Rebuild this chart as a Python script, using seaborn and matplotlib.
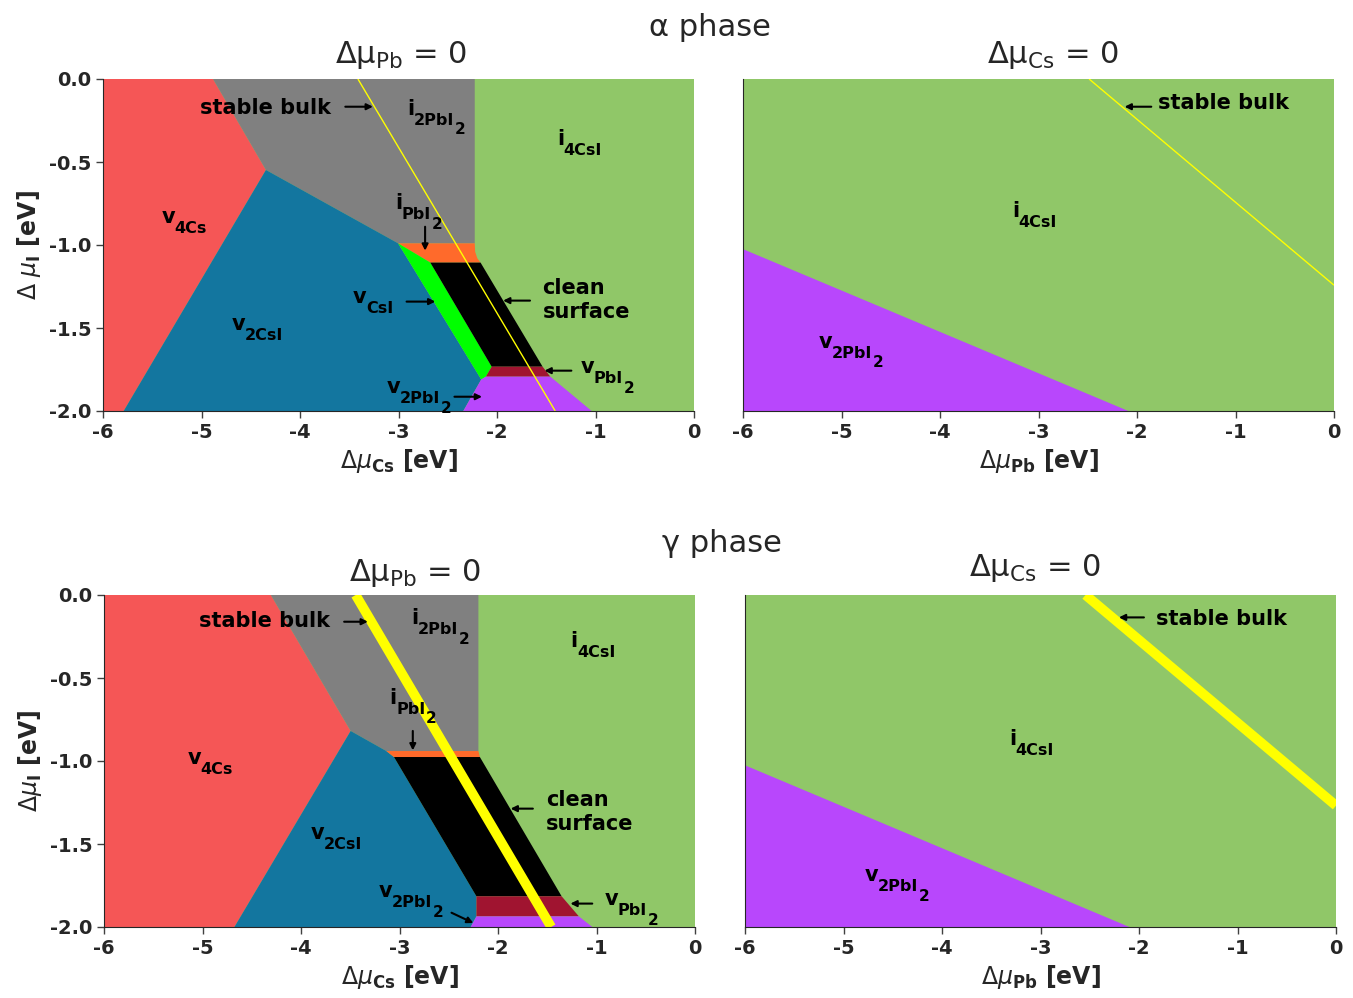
import numpy as np
import pandas as pd
import matplotlib
matplotlib.use("Agg")
import matplotlib.pyplot as plt
import seaborn as sns

sns.set_style("ticks")
plt.rcParams['font.family'] = ['DejaVu Sans']

# ---------------- colours ----------------
C_GREEN = '#90c768'
C_RED = '#f55656'
C_GRAY = '#808080'
C_BLUE = '#13769f'
C_ORANGE = '#ff6a2b'
C_LIME = '#00ff00'
C_BLACK = '#000000'
C_DARKRED = '#a01430'
C_PURPLE = '#b847fc'
C_YELLOW = '#ffff00'

# ---------------- alpha phase, dmu_Pb = 0 (x: dmu_Cs, y: dmu_I) ----------------
a_red_x = [-6, -4.883, -4.346, -5.79, -6]
a_red_y = [0, 0, -0.548, -2, -2]
a_gray_x = [-4.883, -2.226, -2.226, -3.004, -4.346]
a_gray_y = [0, 0, -0.99, -0.99, -0.548]
a_blue_x = [-4.346, -3.004, -2.16, -2.342, -5.79]
a_blue_y = [-0.548, -0.99, -1.81, -2, -2]
a_orange_x = [-3.004, -2.226, -2.222, -2.20, -2.167, -2.677]
a_orange_y = [-0.99, -0.99, -1.04, -1.08, -1.106, -1.106]
a_lime_x = [-3.004, -2.677, -2.054, -2.113, -2.16]
a_lime_y = [-0.99, -1.106, -1.733, -1.793, -1.81]
a_black_x = [-2.677, -2.167, -1.537, -2.054]
a_black_y = [-1.106, -1.106, -1.733, -1.733]
a_dred_x = [-2.054, -1.537, -1.459, -2.113]
a_dred_y = [-1.733, -1.733, -1.793, -1.793]
a_purp_x = [-2.113, -1.459, -1.039, -2.342, -2.16]
a_purp_y = [-1.793, -1.793, -2, -2, -1.81]
a_bulk_x = [-3.412, -1.409]
a_bulk_y = [0.0, -2.0]

# ---------------- alpha phase, dmu_Cs = 0 (x: dmu_Pb, y: dmu_I) ----------------
ar_purp_x = [-6, -2.088, -6]
ar_purp_y = [-1.025, -2, -2]
ar_bulk_x = [-2.486, 0.0]
ar_bulk_y = [0.0, -1.242]

# ---------------- gamma phase, dmu_Pb = 0 ----------------
g_red_x = [-6, -4.306, -3.496, -4.676, -6]
g_red_y = [0, 0, -0.819, -2, -2]
g_gray_x = [-4.306, -2.199, -2.199, -3.134, -3.496]
g_gray_y = [0, 0, -0.94, -0.94, -0.819]
g_blue_x = [-3.496, -3.134, -3.056, -2.219, -2.219, -2.277, -4.676]
g_blue_y = [-0.819, -0.94, -0.976, -1.815, -1.936, -2, -2]
g_orange_x = [-3.134, -2.199, -2.184, -3.056]
g_orange_y = [-0.94, -0.94, -0.976, -0.976]
g_black_x = [-3.056, -2.184, -1.354, -2.219]
g_black_y = [-0.976, -0.976, -1.815, -1.815]
g_dred_x = [-2.219, -1.354, -1.179, -2.219]
g_dred_y = [-1.815, -1.815, -1.936, -1.936]
g_purp_x = [-2.219, -1.179, -1.043, -2.277]
g_purp_y = [-1.936, -1.936, -2, -2]
g_bulk_x = [-3.445, -1.46]
g_bulk_y = [0.0, -2.0]

# ---------------- gamma phase, dmu_Cs = 0 ----------------
gr_purp_x = [-6, -2.098, -6]
gr_purp_y = [-1.026, -2, -2]
gr_bulk_x = [-2.543, 0.0]
gr_bulk_y = [0.0, -1.269]

x_ticks = [-6, -5, -4, -3, -2, -1, 0]
x_ticklabels = ['-6', '-5', '-4', '-3', '-2', '-1', '0']
y_ticks = [0.0, -0.5, -1.0, -1.5, -2.0]
y_ticklabels = ['0.0', '-0.5', '-1.0', '-1.5', '-2.0']

# region labels: (main, subscript, sub-subscript, x_left, y_baseline)
a_labels = [
    ('v', '4Cs', None, -5.409, -0.867),
    ('v', '2CsI', None, -4.689, -1.512),
    ('i', '4CsI', None, -1.393, -0.40),
    ('i', '2PbI', '2', -2.907, -0.215),
    ('i', 'PbI', '2', -3.035, -0.785),
    ('v', 'CsI', None, -3.463, -1.349),
    ('v', 'PbI', '2', -1.148, -1.773),
    ('v', '2PbI', '2', -3.12, -1.894),
]
a_texts = [('stable bulk', -5.012, -0.177), ('clean\nsurface', -1.537, -1.331)]
a_arrows = [  # (tail x, tail y, head x, head y)
    (-3.54, -0.167, -3.26, -0.167),
    (-2.73, -0.89, -2.73, -1.034),
    (-2.918, -1.341, -2.626, -1.341),
    (-1.665, -1.335, -1.938, -1.335),
    (-1.245, -1.757, -1.518, -1.757),
    (-2.432, -1.914, -2.152, -1.914),
]
ar_labels = [
    ('i', '4CsI', None, -3.269, -0.83),
    ('v', '2PbI', '2', -5.229, -1.618),
]
ar_texts = [('stable bulk', -1.787, -0.147)]
ar_arrows = [(-1.855, -0.167, -2.126, -0.167)]

g_labels = [
    ('i', '2PbI', '2', -2.885, -0.177),
    ('i', '4CsI', None, -1.265, -0.315),
    ('i', 'PbI', '2', -3.099, -0.655),
    ('v', '4Cs', None, -5.151, -1.02),
    ('v', '2CsI', None, -3.905, -1.468),
    ('v', 'PbI', '2', -0.914, -1.87),
    ('v', '2PbI', '2', -3.212, -1.819),
]
g_texts = [('stable bulk', -5.034, -0.157), ('clean\nsurface', -1.51, -1.307)]
g_arrows = [
    (-3.562, -0.161, -3.321, -0.161),
    (-2.865, -0.819, -2.865, -0.936),
    (-1.646, -1.287, -1.872, -1.287),
    (-1.043, -1.859, -1.265, -1.859),
    (-2.472, -1.914, -2.25, -1.976),
]
gr_labels = [
    ('i', '4CsI', None, -3.317, -0.906),
    ('v', '2PbI', '2', -4.785, -1.725),
]
gr_texts = [('stable bulk', -1.823, -0.145)]
gr_arrows = [(-1.95, -0.135, -2.204, -0.135)]

fig = plt.figure(figsize=(13.53, 9.98), dpi=100)
W, H = 1353.0, 998.0


def make_ax(l, t, r, b):
    return fig.add_axes([l / W, 1 - b / H, (r - l) / W, (b - t) / H])


ax_a = make_ax(103, 79, 694, 411)
ax_ar = make_ax(743, 79, 1334, 411)
ax_g = make_ax(104, 595, 695, 927)
ax_gr = make_ax(745, 595, 1336, 927)


def fill(ax, xs, ys, c):
    ax.fill(xs, ys, color=c, lw=0, antialiased=True)


def base(ax, ylab):
    ax.fill([-6, 0, 0, -6], [0, 0, -2, -2], color=C_GREEN, lw=0)
    ax.set_xlim(-6, 0)
    ax.set_ylim(-2, 0)
    ax.set_xticks(x_ticks)
    ax.set_xticklabels(x_ticklabels, fontsize=14, fontweight='bold')
    for s in ['top', 'right']:
        ax.spines[s].set_visible(False)
    ax.tick_params(axis='both', length=5, width=1, color='.25')
    if ylab:
        ax.set_yticks(y_ticks)
        ax.set_yticklabels(y_ticklabels, fontsize=14, fontweight='bold')
    else:
        ax.set_yticks([])


def bulk(ax, xs, ys, lw):
    df = pd.DataFrame({'x': xs, 'y': ys})
    sns.lineplot(data=df, x='x', y='y', ax=ax, color=C_YELLOW, lw=lw,
                 sort=False, estimator=None, solid_capstyle='butt')
    ax.set_xlabel('')
    ax.set_ylabel('')


FS = 15
FS_SUB = 11.5
FS_SUB2 = 11


def annotate(ax, labels, texts, arrows):
    for main, sub, sub2, x, y in labels:
        t = ax.text(x, y, main, fontsize=FS, fontweight='bold', color='black',
                    ha='left', va='baseline')
        s = ax.annotate(sub, xy=(1, 0), xycoords=t, xytext=(-0.5, -6.5),
                        textcoords='offset points', fontsize=FS_SUB,
                        fontweight='bold', color='black', ha='left', va='bottom')
        if sub2:
            ax.annotate(sub2, xy=(1, 0), xycoords=s, xytext=(0.5, -7.0),
                        textcoords='offset points', fontsize=FS_SUB2,
                        fontweight='bold', color='black', ha='left', va='bottom')
    for txt, x, y in texts:
        ax.text(x, y, txt, fontsize=FS, fontweight='bold', color='black',
                ha='left', va='center', linespacing=1.25)
    for x0, y0, x1, y1 in arrows:
        ax.annotate('', xy=(x1, y1), xytext=(x0, y0),
                    arrowprops=dict(arrowstyle='-|>', color='black', lw=1.5,
                                    mutation_scale=9, shrinkA=0, shrinkB=0))


# alpha left
base(ax_a, True)
fill(ax_a, a_red_x, a_red_y, C_RED)
fill(ax_a, a_gray_x, a_gray_y, C_GRAY)
fill(ax_a, a_blue_x, a_blue_y, C_BLUE)
fill(ax_a, a_orange_x, a_orange_y, C_ORANGE)
fill(ax_a, a_lime_x, a_lime_y, C_LIME)
fill(ax_a, a_black_x, a_black_y, C_BLACK)
fill(ax_a, a_dred_x, a_dred_y, C_DARKRED)
fill(ax_a, a_purp_x, a_purp_y, C_PURPLE)
bulk(ax_a, a_bulk_x, a_bulk_y, 1.0)
annotate(ax_a, a_labels, a_texts, a_arrows)

# alpha right
base(ax_ar, False)
fill(ax_ar, ar_purp_x, ar_purp_y, C_PURPLE)
bulk(ax_ar, ar_bulk_x, ar_bulk_y, 1.0)
annotate(ax_ar, ar_labels, ar_texts, ar_arrows)

# gamma left
base(ax_g, True)
fill(ax_g, g_red_x, g_red_y, C_RED)
fill(ax_g, g_gray_x, g_gray_y, C_GRAY)
fill(ax_g, g_blue_x, g_blue_y, C_BLUE)
fill(ax_g, g_orange_x, g_orange_y, C_ORANGE)
fill(ax_g, g_black_x, g_black_y, C_BLACK)
fill(ax_g, g_dred_x, g_dred_y, C_DARKRED)
fill(ax_g, g_purp_x, g_purp_y, C_PURPLE)
bulk(ax_g, g_bulk_x, g_bulk_y, 7.0)
annotate(ax_g, g_labels, g_texts, g_arrows)

# gamma right
base(ax_gr, False)
fill(ax_gr, gr_purp_x, gr_purp_y, C_PURPLE)
bulk(ax_gr, gr_bulk_x, gr_bulk_y, 7.0)
annotate(ax_gr, gr_labels, gr_texts, gr_arrows)

for ax in [ax_a, ax_ar, ax_g, ax_gr]:
    ax.set_xlim(-6, 0)
    ax.set_ylim(-2, 0)

# axis labels
ax_a.set_xlabel(r'$\Delta\mu_{\bf Cs}$ [eV]', fontsize=17, fontweight='bold')
ax_g.set_xlabel(r'$\Delta\mu_{\bf Cs}$ [eV]', fontsize=17, fontweight='bold')
ax_ar.set_xlabel(r'$\Delta\mu_{\bf Pb}$ [eV]', fontsize=17, fontweight='bold')
ax_gr.set_xlabel(r'$\Delta\mu_{\bf Pb}$ [eV]', fontsize=17, fontweight='bold')
ax_a.set_ylabel(r'$\Delta\ \mu_{\bf I}$ [eV]', fontsize=17, fontweight='bold')
ax_g.set_ylabel(r'$\Delta\mu_{\bf I}$ [eV]', fontsize=17, fontweight='bold')

# panel titles
ax_a.text(0.504, 1.072, r'Δμ$_{\mathrm{Pb}}$ = 0', transform=ax_a.transAxes,
          fontsize=22, ha='center', va='center')
ax_ar.text(0.525, 1.072, r'Δμ$_{\mathrm{Cs}}$ = 0', transform=ax_ar.transAxes,
           fontsize=22, ha='center', va='center')
ax_g.text(0.526, 1.066, r'Δμ$_{\mathrm{Pb}}$ = 0', transform=ax_g.transAxes,
          fontsize=22, ha='center', va='center')
ax_gr.text(0.491, 1.081, r'Δμ$_{\mathrm{Cs}}$ = 0', transform=ax_gr.transAxes,
           fontsize=22, ha='center', va='center')

fig.text(710 / W, 1 - 27 / H, 'α phase', fontsize=22, ha='center', va='center')
fig.text(722 / W, 1 - 543 / H, 'γ phase', fontsize=22, ha='center', va='center')

fig.savefig('out.png', dpi=100)
